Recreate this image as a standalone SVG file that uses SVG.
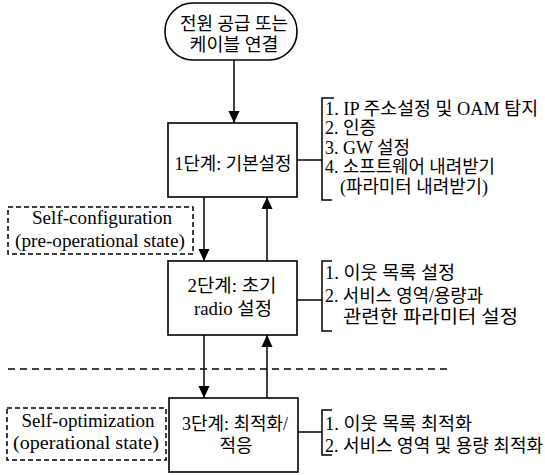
<svg xmlns="http://www.w3.org/2000/svg" width="545" height="475" viewBox="0 0 545 475">
<style>
  text { font-family: "Liberation Serif", "Noto Sans CJK KR", serif; font-size: 18px; fill: #000; }
  .lat { font-size: 19px; }
  .mid { text-anchor: middle; }
  .box { fill: #fff; stroke: #000; stroke-width: 1.6; }
  .dbox { fill: none; stroke: #000; stroke-width: 1.5; stroke-dasharray: 5 3; }
  .ln { fill: none; stroke: #000; stroke-width: 1.5; }
  .dash { fill: none; stroke: #000; stroke-width: 1.5; stroke-dasharray: 7 5; }
</style>
<defs>
  <marker id="ah" markerUnits="userSpaceOnUse" markerWidth="12" markerHeight="13" refX="13" refY="6" orient="auto" viewBox="0 0 13 12">
    <path d="M0,0 L13,6 L0,12 z" fill="#000"/>
  </marker>
</defs>
<rect width="545" height="475" fill="#fff"/>

<g id="connectors">
  <line class="ln" x1="234" y1="60" x2="234" y2="123" marker-end="url(#ah)"/>
  <line class="ln" x1="204" y1="197" x2="204" y2="261" marker-end="url(#ah)"/>
  <line class="ln" x1="267" y1="261" x2="267" y2="197" marker-end="url(#ah)"/>
  <line class="ln" x1="204" y1="335" x2="204" y2="398" marker-end="url(#ah)"/>
  <line class="ln" x1="267" y1="398" x2="267" y2="335" marker-end="url(#ah)"/>
  <line class="ln" x1="297" y1="160" x2="322" y2="160"/>
  <line class="ln" x1="297" y1="300" x2="322" y2="300"/>
  <line class="ln" x1="298" y1="432" x2="322" y2="432"/>
  <line class="dash" x1="8" y1="369" x2="452" y2="369"/>
</g>

<g id="start">
  <rect class="box" x="165" y="3" width="132" height="57" rx="28" ry="28"/>
  <text class="mid" x="234" y="30" textLength="108" lengthAdjust="spacingAndGlyphs">전원 공급 또는</text>
  <text class="mid" x="234" y="51" textLength="89" lengthAdjust="spacingAndGlyphs">케이블 연결</text>
</g>

<g id="step1">
  <rect class="box" x="168" y="123" width="129" height="74"/>
  <text class="mid" x="233" y="170" textLength="117" lengthAdjust="spacingAndGlyphs">1단계: 기본설정</text>
</g>

<g id="list1">
  <path class="ln" d="M334,98 H322 V200 H332"/>
  <text x="325" y="115" textLength="213" lengthAdjust="spacingAndGlyphs">1. IP 주소설정 및 OAM 탐지</text>
  <text x="325" y="134">2. 인증</text>
  <text x="325" y="154" textLength="85" lengthAdjust="spacingAndGlyphs">3. GW 설정</text>
  <text x="325" y="173" textLength="170" lengthAdjust="spacingAndGlyphs">4. 소프트웨어 내려받기</text>
  <text x="340" y="193" textLength="148" lengthAdjust="spacingAndGlyphs">(파라미터 내려받기)</text>
</g>

<g id="selfconfig">
  <rect class="dbox" x="8" y="207" width="185" height="47"/>
  <text class="lat mid" x="102" y="224" textLength="140" lengthAdjust="spacingAndGlyphs">Self-configuration</text>
  <text class="lat mid" x="100" y="247" textLength="170" lengthAdjust="spacingAndGlyphs">(pre-operational state)</text>
</g>

<g id="step2">
  <rect class="box" x="168" y="261" width="129" height="74"/>
  <text class="mid" x="232" y="292" textLength="89" lengthAdjust="spacingAndGlyphs">2단계: 초기</text>
  <text class="mid" x="233" y="315" textLength="78" lengthAdjust="spacingAndGlyphs">radio 설정</text>
</g>

<g id="list2">
  <path class="ln" d="M332,261 H322 V331 H332"/>
  <text x="325" y="279" textLength="130" lengthAdjust="spacingAndGlyphs">1. 이웃 목록 설정</text>
  <text x="325" y="302" textLength="158" lengthAdjust="spacingAndGlyphs">2. 서비스 영역/용량과</text>
  <text x="343" y="323" textLength="175" lengthAdjust="spacingAndGlyphs">관련한 파라미터 설정</text>
</g>

<g id="selfopt">
  <rect class="dbox" x="7" y="408" width="159" height="52"/>
  <text class="lat mid" x="88" y="427" textLength="133" lengthAdjust="spacingAndGlyphs">Self-optimization</text>
  <text class="lat mid" x="86" y="449" textLength="146" lengthAdjust="spacingAndGlyphs">(operational state)</text>
</g>

<g id="step3">
  <rect class="box" x="169" y="398" width="129" height="74"/>
  <text class="mid" x="235" y="430" textLength="106" lengthAdjust="spacingAndGlyphs">3단계: 최적화/</text>
  <text class="mid" x="236" y="452">적응</text>
</g>

<g id="list3">
  <path class="ln" d="M332,410 H322 V455 H332"/>
  <text x="325" y="430" textLength="147" lengthAdjust="spacingAndGlyphs">1. 이웃 목록 최적화</text>
  <text x="325" y="452" textLength="218" lengthAdjust="spacingAndGlyphs">2. 서비스 영역 및 용량 최적화</text>
</g>
</svg>
